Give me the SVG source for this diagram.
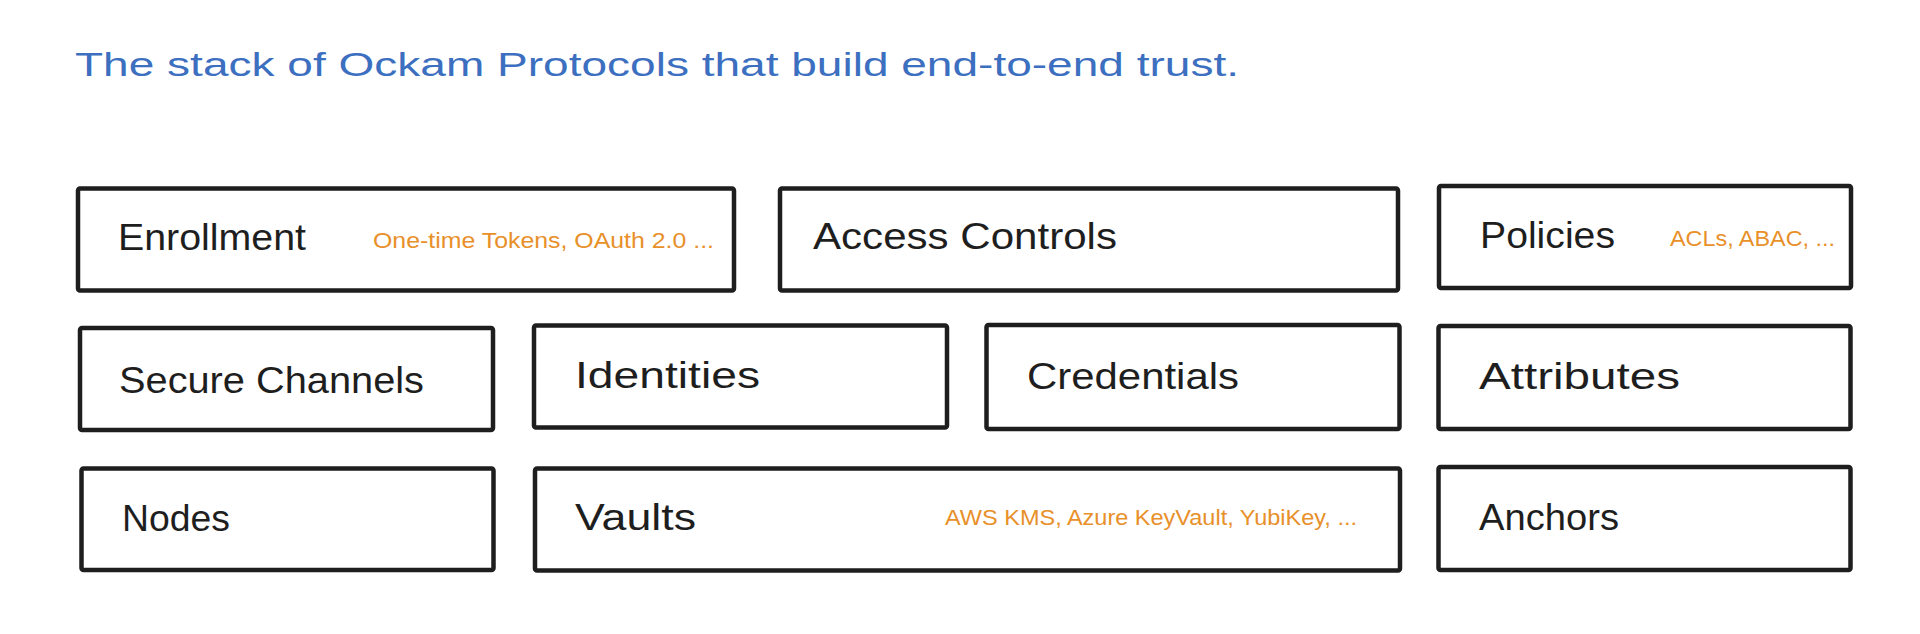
<svg xmlns="http://www.w3.org/2000/svg" width="1920" height="634" viewBox="0 0 1920 634">
  <style>
    .box { fill: #ffffff; stroke: #1e1e1e; stroke-width: 4.5; stroke-linejoin: round; }
    .lbl { font-family: "Liberation Sans", Arial, sans-serif; font-size: 36px; fill: #1e1e1e; }
    .sub { font-family: "Liberation Sans", Arial, sans-serif; font-size: 22px; fill: #e8902a; }
    .title { font-family: "Liberation Sans", Arial, sans-serif; font-size: 34px; fill: #3c6fbf; }
  </style>
  <rect width="1920" height="634" fill="#ffffff"/>
  <text class="title" x="75" y="76" textLength="1164" lengthAdjust="spacingAndGlyphs">The stack of Ockam Protocols that build end-to-end trust.</text>

  <g id="node-enrollment">
    <rect class="box" x="78" y="188.5" width="656" height="102" rx="2"/>
    <text class="lbl" x="118" y="250" textLength="188" lengthAdjust="spacingAndGlyphs">Enrollment</text>
    <text class="sub" x="373" y="248" textLength="341" lengthAdjust="spacingAndGlyphs">One-time Tokens, OAuth 2.0 ...</text>
  </g>
  <g id="node-access-controls">
    <rect class="box" x="780" y="188.5" width="618" height="102" rx="2"/>
    <text class="lbl" x="813" y="249" textLength="304" lengthAdjust="spacingAndGlyphs">Access Controls</text>
  </g>
  <g id="node-policies">
    <rect class="box" x="1439" y="186" width="412" height="102" rx="2"/>
    <text class="lbl" x="1480" y="248" textLength="135" lengthAdjust="spacingAndGlyphs">Policies</text>
    <text class="sub" x="1670" y="246" textLength="165" lengthAdjust="spacingAndGlyphs">ACLs, ABAC, ...</text>
  </g>

  <g id="node-secure-channels">
    <rect class="box" x="80" y="328" width="413" height="102" rx="2"/>
    <text class="lbl" x="119" y="393" textLength="305" lengthAdjust="spacingAndGlyphs">Secure Channels</text>
  </g>
  <g id="node-identities">
    <rect class="box" x="534" y="325.5" width="413" height="102" rx="2"/>
    <text class="lbl" x="575" y="388" textLength="185" lengthAdjust="spacingAndGlyphs">Identities</text>
  </g>
  <g id="node-credentials">
    <rect class="box" x="986.5" y="325" width="413" height="104" rx="2"/>
    <text class="lbl" x="1027" y="389" textLength="212" lengthAdjust="spacingAndGlyphs">Credentials</text>
  </g>
  <g id="node-attributes">
    <rect class="box" x="1438.5" y="326" width="412" height="103" rx="2"/>
    <text class="lbl" x="1479" y="389" textLength="201" lengthAdjust="spacingAndGlyphs">Attributes</text>
  </g>

  <g id="node-nodes">
    <rect class="box" x="81.5" y="468.5" width="412" height="101.5" rx="2"/>
    <text class="lbl" x="122" y="531" textLength="108" lengthAdjust="spacingAndGlyphs">Nodes</text>
  </g>
  <g id="node-vaults">
    <rect class="box" x="535" y="468.5" width="865" height="102" rx="2"/>
    <text class="lbl" x="575" y="530" textLength="121" lengthAdjust="spacingAndGlyphs">Vaults</text>
    <text class="sub" x="945" y="525" textLength="412" lengthAdjust="spacingAndGlyphs">AWS KMS, Azure KeyVault, YubiKey, ...</text>
  </g>
  <g id="node-anchors">
    <rect class="box" x="1438.5" y="467" width="412" height="103" rx="2"/>
    <text class="lbl" x="1479" y="530" textLength="140" lengthAdjust="spacingAndGlyphs">Anchors</text>
  </g>

  <g id="connectors"></g>
</svg>
